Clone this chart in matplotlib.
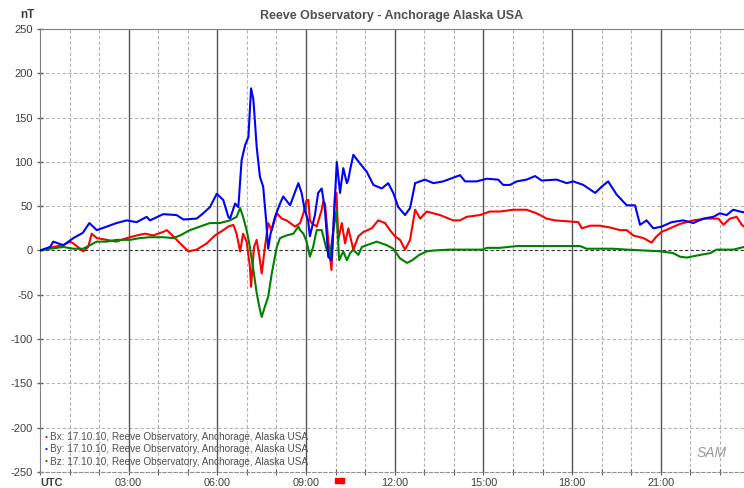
import matplotlib
matplotlib.use("Agg")
import matplotlib.pyplot as plt
from matplotlib.patches import Rectangle

# ---- data (hours UTC, nT) ----
by_t = [0.00, 0.34, 0.45, 0.79, 1.13, 1.45, 1.67, 1.92, 2.26, 2.59, 2.93, 3.27, 3.61, 3.72, 4.17, 4.62,
        4.85, 5.30, 5.52, 5.75, 5.98, 6.20, 6.37, 6.43, 6.60, 6.71, 6.82, 6.94, 7.05, 7.14, 7.22, 7.33,
        7.44, 7.55, 7.65, 7.72, 7.80, 7.95, 8.12, 8.23, 8.46, 8.74, 8.85, 8.96, 9.07, 9.13, 9.30, 9.41,
        9.53, 9.64, 9.69, 9.75, 9.86, 9.92, 10.04, 10.15, 10.26, 10.38, 10.43, 10.49, 10.60, 10.83, 11.05,
        11.28, 11.56, 11.78, 11.95, 12.12, 12.35, 12.52, 12.69, 13.02, 13.31, 13.64, 14.21, 14.38, 14.77,
        15.11, 15.50, 15.67, 15.90, 16.13, 16.46, 16.75, 16.97, 17.48, 17.82, 18.04, 18.38, 18.78, 19.00,
        19.22, 19.51, 19.85, 20.13, 20.30, 20.52, 20.75, 21.03, 21.37, 21.76, 22.10, 22.44, 22.78, 23.00,
        23.23, 23.45, 23.68, 23.82]
by_v = [0, 4, 10, 6, 14, 20, 31, 23, 27, 31, 34, 32, 38, 34, 41, 40,
        35, 36, 42, 49, 64, 57, 38, 36, 53, 49, 102, 119, 128, 183, 170, 117,
        83, 72, 34, 2, 19, 38, 53, 61, 51, 76, 65, 45, 34, 16, 40, 65,
        70, 46, 23, -7, -11, 23, 100, 65, 93, 76, 80, 91, 108, 98, 89,
        74, 70, 76, 65, 49, 40, 48, 76, 80, 76, 78, 85, 78, 78,
        81, 80, 74, 74, 78, 80, 84, 79, 80, 76, 78, 74, 65, 72,
        78, 63, 51, 51, 29, 34, 25, 27, 32, 34, 31, 36, 38, 42,
        40, 46, 44, 43]

bx_t = [0.00, 0.45, 0.79, 1.01, 1.13, 1.46, 1.63, 1.75, 1.92, 2.26, 2.59, 2.93, 3.27, 3.55, 3.83, 4.17,
        4.29, 4.51, 4.74, 5.02, 5.30, 5.64, 5.92, 6.20, 6.37, 6.54, 6.65, 6.77, 6.87, 6.99, 7.10, 7.14,
        7.24, 7.33, 7.44, 7.50, 7.61, 7.72, 7.84, 8.01, 8.18, 8.34, 8.46, 8.63, 8.80, 8.91, 9.02, 9.08,
        9.13, 9.19, 9.36, 9.53, 9.58, 9.64, 9.75, 9.86, 9.98, 10.03, 10.09, 10.21, 10.32, 10.43, 10.60,
        10.77, 10.94, 11.22, 11.44, 11.67, 11.84, 12.01, 12.18, 12.35, 12.52, 12.69, 12.86, 13.08, 13.53,
        13.98, 14.21, 14.43, 14.88, 15.22, 15.56, 16.01, 16.46, 16.80, 17.14, 17.42, 17.82, 18.21, 18.33,
        18.61, 18.94, 19.28, 19.62, 19.85, 20.07, 20.41, 20.69, 20.86, 21.03, 21.31, 21.65, 22.10, 22.55,
        22.95, 23.12, 23.34, 23.57, 23.74, 23.82]
bx_v = [0, 4, 6, 10, 8, -1, 4, 19, 14, 12, 10, 14, 17, 19, 17, 21,
        23, 16, 8, -1, 1, 8, 17, 23, 27, 29, 19, -1, 19, 10, -18, -41,
        4, 12, -11, -26, 4, 31, 23, 42, 36, 34, 31, 27, 31, 42, 57, 57,
        34, 31, 27, 46, 55, 53, 12, -22, 63, 65, 12, 31, 8, 25, 1,
        16, 21, 25, 34, 31, 23, 16, 12, 1, 12, 46, 36, 44, 40,
        34, 34, 38, 40, 44, 44, 46, 46, 42, 36, 34, 33, 32, 25,
        28, 28, 26, 23, 23, 17, 14, 9, 16, 21, 25, 30, 34, 36,
        36, 29, 36, 38, 29, 27]

bz_t = [0.00, 0.34, 0.79, 1.13, 1.46, 1.69, 1.92, 2.26, 2.59, 3.04, 3.38, 3.72, 4.17, 4.51, 4.74, 5.07,
        5.41, 5.75, 6.09, 6.43, 6.65, 6.77, 6.87, 6.99, 7.10, 7.22, 7.33, 7.44, 7.50, 7.61, 7.72, 7.84,
        8.01, 8.12, 8.34, 8.57, 8.74, 8.80, 8.91, 9.02, 9.13, 9.24, 9.36, 9.53, 9.69, 9.81, 9.92, 10.03,
        10.12, 10.26, 10.38, 10.49, 10.60, 10.77, 10.89, 11.05, 11.39, 11.73, 11.95, 12.18, 12.42, 12.59,
        12.83, 13.08, 13.31, 13.87, 14.43, 14.99, 15.11, 15.56, 16.13, 16.68, 18.27, 18.49, 19.39, 19.85,
        21.03, 21.42, 21.65, 21.88, 22.33, 22.67, 22.89, 23.45, 23.82]
bz_v = [0, 2, 4, 2, 2, 6, 10, 10, 12, 12, 14, 15, 15, 14, 17, 23,
        27, 31, 31, 34, 38, 48, 38, 23, 4, -22, -48, -67, -75, -63, -52, -26,
        4, 14, 17, 19, 27, 23, 19, 10, -7, 4, 23, 23, 2, -7, 22, 45,
        -11, -1, -11, -3, 1, -5, 4, 6, 10, 6, 2, -9, -14, -11,
        -5, -1, 0, 1, 1, 1, 3, 3, 5, 5, 5, 2, 2, 1,
        -1, -3, -7, -8, -5, -3, 1, 1, 4]

legend_labels = ["Bx: 17.10.10, Reeve Observatory, Anchorage, Alaska USA",
                 "By: 17.10.10, Reeve Observatory, Anchorage, Alaska USA",
                 "Bz: 17.10.10, Reeve Observatory, Anchorage, Alaska USA"]
xtick_pos = [0, 3, 6, 9, 12, 15, 18, 21]
xtick_labels = ["UTC", "03:00", "06:00", "09:00", "12:00", "15:00", "18:00", "21:00"]
yticks = list(range(-250, 251, 50))

plt.rcParams['font.family'] = ['Liberation Sans', 'DejaVu Sans']

fig = plt.figure(figsize=(7.44, 4.88), dpi=100)
ax = fig.add_axes([40 / 744, 1 - 472 / 488, 1 - 40 / 744, (472 - 29) / 488])
ax.set_xlim(0, (744 - 40) / 29.56)
ax.set_ylim(-250, 250)

# grid
for y in yticks:
    if y == 0:
        ax.axhline(y, color='#333333', lw=0.8, ls=(0, (3, 2)), zorder=1)
    elif y not in (-250, 250):
        ax.axhline(y, color='#b4b4b4', lw=0.8, ls=(0, (3, 2)), zorder=1)
for h in range(1, 24):
    if h % 3 == 0:
        ax.axvline(h, color='#555555', lw=1.0, zorder=1)
    else:
        ax.axvline(h, color='#b4b4b4', lw=0.8, ls=(0, (3, 2)), zorder=1)

ax.plot(bx_t, bx_v, color='#ff0000', lw=1.5, zorder=3)
ax.plot(by_t, by_v, color='#0000ff', lw=1.5, zorder=4)
ax.plot(bz_t, bz_v, color='#008000', lw=1.5, zorder=3)

ax.spines['right'].set_visible(False)
ax.spines['left'].set_color('#808080')
ax.spines['top'].set_color('#808080')
ax.spines['bottom'].set_color('#909090')
ax.spines['bottom'].set_linestyle((0, (3, 2)))
ax.spines['bottom'].set_linewidth(0.8)

ax.set_yticks(yticks)
ax.set_yticklabels([str(v) for v in yticks], color='#404040', fontsize=8)
ax.tick_params(axis='y', length=4, width=1, color='#606060', direction='inout', pad=3)
ax.set_xticks(xtick_pos)
ax.set_xticklabels(xtick_labels, color='#404040', fontsize=7.8)
ax.get_xticklabels()[0].set_fontweight('bold')
ax.get_xticklabels()[0].set_horizontalalignment('left')
ax.set_xticks(range(0, 24), minor=True)
ax.tick_params(axis='x', which='both', length=4, width=0.8, color='#606060', direction='inout', pad=2)

fig.text(20 / 744, 1 - 15 / 488, "nT", fontsize=8.5, fontweight='bold', color='#404040',
         ha='left', va='center')
ax.set_title("Reeve Observatory - Anchorage Alaska USA", fontsize=9, fontweight='bold',
             color='#505050', pad=7)

# legend
colors = ['#ff0000', '#0000ff', '#008000']
for i, (lab, c) in enumerate(zip(legend_labels, colors)):
    yy = 1 - (437 + i * 12.3) / 488
    fig.text(46 / 744, yy, "•", color=c, fontsize=6, ha='center', va='center')
    fig.text(50 / 744, yy, lab, color='#505050', fontsize=7.2, ha='left', va='center')

# current-time marker
ax.add_patch(Rectangle((9.98, -0.024), 0.32, 0.01, transform=ax.get_xaxis_transform(),
                       color='#ff0000', clip_on=False, zorder=5))

# logo
fig.text(712 / 744, 1 - 453 / 488, "SAM", fontsize=10, style='italic', color='#9a9a9a',
         ha='center', va='center')

fig.savefig("out.png", dpi=100)
